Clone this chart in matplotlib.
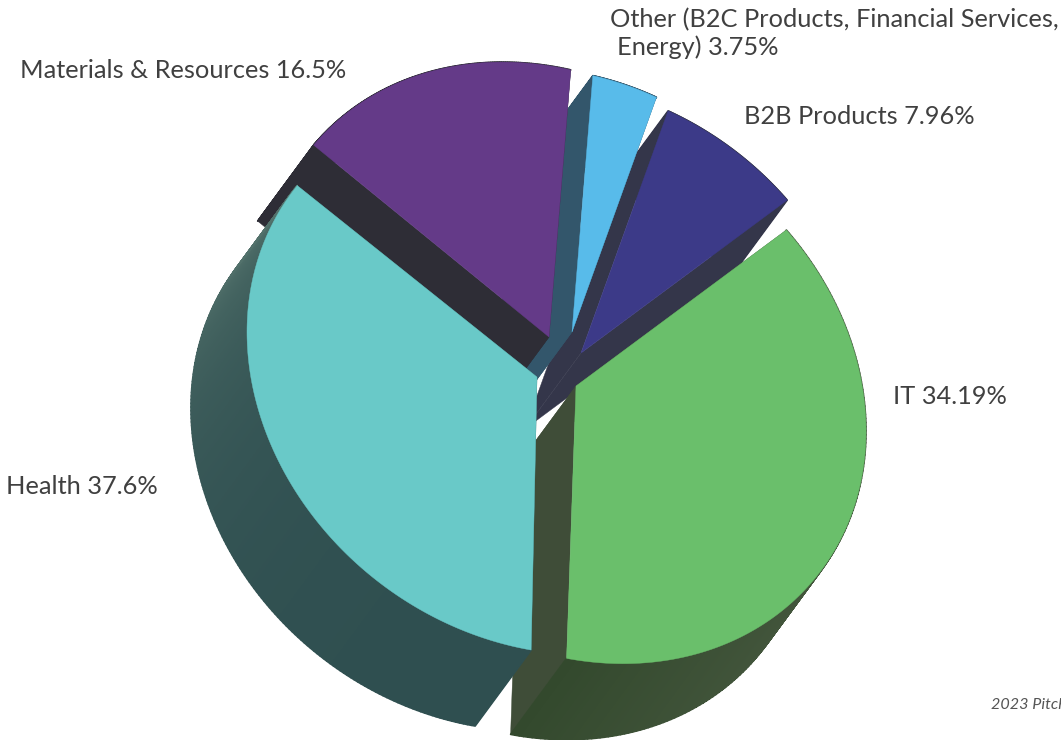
#!/usr/bin/env python3
"""Exploded pseudo-3D pie of deal share by sector, drawn in pixel coordinates."""

import numpy as np
import matplotlib
matplotlib.use("Agg")
import matplotlib.pyplot as plt
from matplotlib.collections import PolyCollection
from matplotlib.colors import to_rgb

# Slice sizes as they are drawn, clockwise from the upper right.
# (the picture gives the green slice the 37.6 sweep and the teal one 34.19,
# while its captions say the opposite, so captions are kept apart)
slice_names = ["green", "teal", "purple", "sky", "navy"]
slice_share = [37.6, 34.19, 16.5, 3.75, 7.96]

captions = [
    "Other (B2C Products, Financial Services,",
    "Energy) 3.75%",
    "B2B Products 7.96%",
    "IT 34.19%",
    "Health 37.6%",
    "Materials & Resources 16.5%",
]
caption_xy = [(610, 20), (617, 47), (744, 116), (893, 396), (6, 486), (20, 70)]

# Look of each slice: apex pixel, radius factor, small turn, top colour, side colours
apex = {"green": (576, 386), "teal": (537, 377), "purple": (549, 337),
        "sky": (572, 332), "navy": (581, 353)}
radius_scale = {"green": 1.0, "teal": 1.0, "purple": 0.99, "sky": 0.95, "navy": 0.98}
spin = {"green": 0.0, "teal": -0.7, "purple": 0.0, "sky": 0.0, "navy": 0.0}
top_color = {"green": "#6abf6b", "teal": "#69c9c8", "purple": "#643a88",
             "sky": "#58bbea", "navy": "#3c3a88"}
# colour at arc start, colour at arc end, colour of the flat cut faces
side_color = {"green": ("#46583f", "#33492d", "#3f4d38"),
              "teal": ("#2f4f50", "#52716b", "#2f4f50"),
              "purple": ("#2e2d36", "#2e2d36", "#2e2d36"),
              "sky": ("#33566b", "#33566b", "#33566b"),
              "navy": ("#34364a", "#34364a", "#34364a")}

# Tilted ellipse of the pie top and the extrusion vector
AX, AXY, AY = 290, 45, 274
EXTRUDE = np.array([-56, 76])
START_ANGLE = 316.5
DRAW_ORDER = ["navy", "sky", "purple", "green", "teal"]


def arc_points(name, t0, t1):
    t = np.radians(np.linspace(t0, t1, 160) + spin[name])
    r = radius_scale[name]
    x = apex[name][0] + r * AX * np.cos(t)
    y = apex[name][1] + r * (AXY * np.cos(t) + AY * np.sin(t))
    return np.column_stack([x, y])


def quad(p, q):
    return [p, q, q + EXTRUDE, p + EXTRUDE]


def draw_slice(ax, name, t0, t1):
    arc = arc_points(name, t0, t1)
    tip = np.array(apex[name], dtype=float)
    c0, c1, c_flat = side_color[name]

    # flat cut faces first, then the curved wall on top of them
    for edge_end in (arc[0], arc[-1]):
        ax.fill(*np.array(quad(tip, edge_end)).T, color=c_flat, lw=0.3)

    quads = [quad(arc[i], arc[i + 1]) for i in range(len(arc) - 1)]
    # the light part of the wall stays close to the arc end
    mix = np.linspace(0, 1, len(quads))[:, None] ** 3
    cols = (1 - mix) * np.array(to_rgb(c0)) + mix * np.array(to_rgb(c1))
    ax.add_collection(PolyCollection(quads, facecolors=cols, edgecolors=cols, linewidths=1.2))

    ax.fill(*np.vstack([tip, arc]).T, color=top_color[name], lw=0.3)


fig = plt.figure(figsize=(10.61, 7.4), dpi=100)
ax = fig.add_axes([0, 0, 1, 1])
ax.set_xlim(0, 1061)
ax.set_ylim(740, 0)
ax.axis("off")

sweeps = np.array(slice_share) / sum(slice_share) * 360
bounds = START_ANGLE + np.concatenate([[0], np.cumsum(sweeps)])
spans = {n: (bounds[i], bounds[i + 1]) for i, n in enumerate(slice_names)}

for name in DRAW_ORDER:
    draw_slice(ax, name, *spans[name])

for text, (x, y) in zip(captions, caption_xy):
    ax.text(x, y, text, family="Lato", fontsize=18.3, color="#404040",
            ha="left", va="center")

ax.text(991, 705, "2023 Pitch", family="Lato", style="italic", fontsize=11.6,
        color="#555555", ha="left", va="center")

fig.savefig("out.png", dpi=100)
